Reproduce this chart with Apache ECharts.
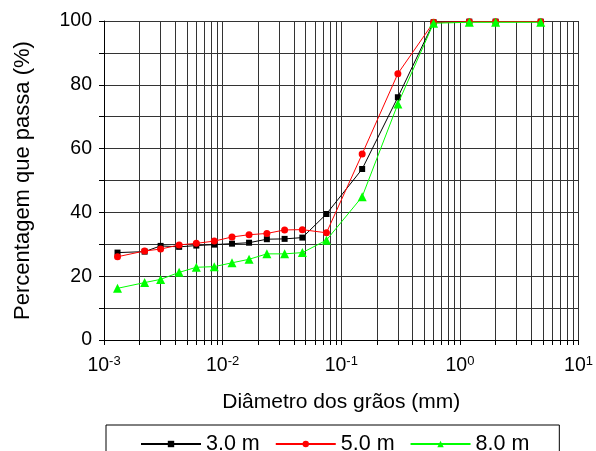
<!DOCTYPE html>
<html>
<head>
<meta charset="utf-8">
<script src="https://cdn.jsdelivr.net/npm/echarts@6/dist/echarts.min.js"></script>
<style>
  html, body { margin: 0; padding: 0; background: #fff; }
  #chart { width: 596px; height: 451px; }
</style>
</head>
<body>
<div id="chart"></div>
<script>
// grain diameters (mm) shared by all samples
const diameters = [0.0013, 0.0022, 0.003, 0.0043, 0.006, 0.0085, 0.012, 0.0167, 0.0236,
  0.0333, 0.047, 0.075, 0.15, 0.3, 0.6, 1.2, 2.0, 4.8]

const pass3m = [27.4, 27.7, 29.5, 29.2, 29.6, 29.9, 30.2, 30.5, 31.6, 31.7, 32.1, 39.5,
  53.6, 76.1, 99.6, 99.8, 99.8, 99.8]
const pass5m = [26.1, 27.9, 28.5, 29.8, 30.3, 31.0, 32.3, 33.0, 33.4, 34.5, 34.6, 33.6,
  58.3, 83.5, 99.6, 99.8, 99.8, 99.8]
const pass8m = [16.2, 18.0, 19.0, 21.2, 22.8, 23.0, 24.2, 25.3, 27.0, 27.0, 27.4, 31.3,
  44.9, 74.0, 99.3, 99.6, 99.6, 99.6]

const seriesNames = ['3.0 m', '5.0 m', '8.0 m']

// log ticks: every 1..9 x 10^k, labels only on decades
const decades = [0.001, 0.01, 0.1, 1, 10]
const decadeExp = ['-3', '-2', '-1', '0', '1']
const minorTicks = []
decades.slice(0, 4).forEach((d) => {
  for (let m = 1; m <= 9; m++) minorTicks.push(+(d * m).toPrecision(3))
})
minorTicks.push(10)

const pairs = (ys) => diameters.map((d, i) => [d, ys[i]])

const chart = echarts.init(document.getElementById('chart'))
const font = 'Liberation Sans, Arial, sans-serif'

const option = {
  animation: false,
  textStyle: { fontFamily: font },
  grid: { left: 104, right: 15, top: 21, bottom: 111 },
  legend: {
    left: 106,
    top: 425,
    padding: [8, 30, 30, 34],
    itemWidth: 60,
    itemHeight: 8,
    itemGap: 15,
    borderColor: '#000',
    borderWidth: 1,
    textStyle: { fontSize: 21.5, color: '#000', fontFamily: font },
    data: seriesNames,
  },
  xAxis: {
    type: 'log',
    logBase: 10,
    min: 0.001,
    max: 10,
    name: 'Diâmetro dos grãos (mm)',
    nameLocation: 'middle',
    nameGap: 52,
    nameTextStyle: { fontSize: 21, color: '#000' },
    axisLine: { lineStyle: { color: '#000', width: 1 } },
    axisTick: { customValues: minorTicks, length: 5, lineStyle: { color: '#000' } },
    axisLabel: {
      customValues: decades,
      margin: 15,
      formatter: (v) => {
        const i = decades.findIndex((d) => Math.abs(d - v) / d < 1e-6)
        return '{b|10}{s|' + decadeExp[i] + '}'
      },
      rich: {
        b: { fontSize: 19.5, color: '#000', fontFamily: font },
        s: { fontSize: 13, color: '#000', fontFamily: font, padding: [0, 0, 9, 0] },
      },
    },
    splitLine: { show: true, lineStyle: { color: '#333', width: 1 } },
  },
  yAxis: {
    type: 'value',
    min: 0,
    max: 100,
    interval: 10,
    name: 'Percentagem que passa (%)',
    nameLocation: 'middle',
    nameGap: 70,
    nameTextStyle: { fontSize: 22, color: '#000' },
    axisLine: { show: true, lineStyle: { color: '#000', width: 1 } },
    axisTick: { show: true, length: 5, lineStyle: { color: '#000' } },
    axisLabel: {
      fontSize: 19.5,
      color: '#000',
      margin: 12,
      formatter: (v) => (v % 20 === 0 ? String(v) : ''),
    },
    splitLine: { show: true, lineStyle: { color: '#333', width: 1 } },
  },
  series: [
    {
      name: seriesNames[0],
      type: 'line',
      data: pairs(pass3m),
      symbol: 'rect',
      symbolSize: 6,
      lineStyle: { color: '#000', width: 1 },
      itemStyle: { color: '#000' },
      z: 3,
    },
    {
      name: seriesNames[1],
      type: 'line',
      data: pairs(pass5m),
      symbol: 'circle',
      symbolSize: 7,
      lineStyle: { color: '#ff0000', width: 1 },
      itemStyle: { color: '#ff0000' },
      z: 4,
    },
    {
      name: seriesNames[2],
      type: 'line',
      data: pairs(pass8m),
      symbol: 'triangle',
      symbolSize: 9,
      lineStyle: { color: '#00ff00', width: 1 },
      itemStyle: { color: '#00ff00' },
      z: 5,
    },
  ],
}

chart.setOption(option)
</script>
</body>
</html>
